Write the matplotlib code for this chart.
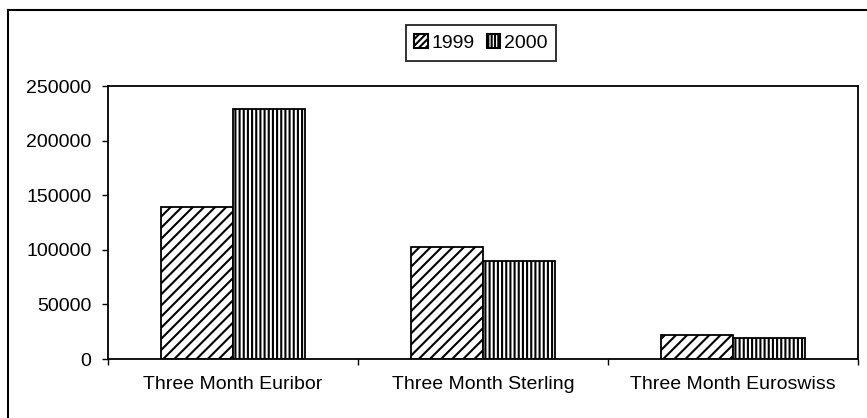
import matplotlib
matplotlib.use("Agg")
import matplotlib.pyplot as plt
import numpy as np
from matplotlib.lines import Line2D
from matplotlib.patches import Patch

plt.rcParams['font.family'] = ['Liberation Sans', 'DejaVu Sans']
plt.rcParams['hatch.linewidth'] = 1.5

categories = ["Three Month Euribor", "Three Month Sterling", "Three Month Euroswiss"]
series_names = ["1999", "2000"]
values_1999 = [139000, 103000, 22000]
values_2000 = [229000, 90000, 19000]
y_ticks = [0, 50000, 100000, 150000, 200000, 250000]

W, H = 867, 418
fig = plt.figure(figsize=(W / 100, H / 100), dpi=100)
ax = fig.add_axes([108 / W, 1 - 359 / H, (858 - 108) / W, (359 - 86) / H])

FS = 14
x = np.arange(len(categories))
bw = 0.288
ax.bar(x - bw / 2, values_1999, bw, facecolor='white', edgecolor='black',
       hatch='///', linewidth=1.3, label=series_names[0])
ax.bar(x + bw / 2, values_2000, bw, facecolor='white', edgecolor='black',
       hatch='||||', linewidth=1.3, label=series_names[1])

ax.set_xlim(-0.5, len(categories) - 0.5)
ax.set_ylim(0, 250000)
ax.set_yticks(y_ticks)
ax.set_yticklabels([str(v) for v in y_ticks])
ax.set_xticks(x)
ax.set_xticklabels(categories)
ax.set_xticks(np.arange(len(categories) + 1) - 0.5, minor=True)
ax.tick_params(axis='x', which='major', length=0, pad=12, labelsize=FS)
ax.tick_params(axis='x', which='minor', length=4, width=1, direction='out')
ax.tick_params(axis='y', length=4, width=1, direction='out', pad=8, labelsize=FS)
for s in ax.spines.values():
    s.set_linewidth(1.3)
    s.set_color('black')

handles = [Patch(facecolor='white', edgecolor='black', hatch='/////', linewidth=1.5),
           Patch(facecolor='white', edgecolor='black', hatch='|||||', linewidth=1.5)]
leg = fig.legend(handles, series_names, loc='center', bbox_to_anchor=(481 / W, 1 - 43 / H),
                 ncol=2, frameon=True, fancybox=False, shadow=False, fontsize=FS,
                 handlelength=0.7, handleheight=0.7, handletextpad=0.2, columnspacing=0.6,
                 borderpad=0.45, borderaxespad=0)
leg.get_frame().set_edgecolor('black')
leg.get_frame().set_linewidth(1.4)

# outer chart frame (cropped at right and bottom)
fig.add_artist(Line2D([8 / W, 8 / W], [0, 1 - 10 / H], transform=fig.transFigure,
                      color='black', linewidth=1.5))
fig.add_artist(Line2D([8 / W, 1], [1 - 10 / H, 1 - 10 / H], transform=fig.transFigure,
                      color='black', linewidth=1.5))

fig.savefig("out.png", dpi=100)
